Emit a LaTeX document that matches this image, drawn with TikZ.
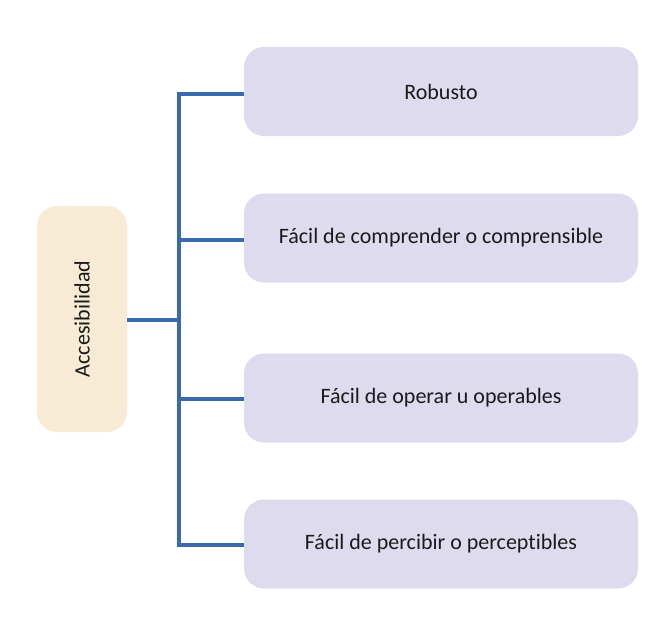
\documentclass[tikz,border=0pt]{standalone}
\usepackage{fontspec}
\setmainfont{Carlito}[Ligatures=NoCommon]
\definecolor{lineblue}{HTML}{3A6AAE}
\definecolor{lav}{HTML}{DEDBEE}
\definecolor{beige}{HTML}{F8EBD6}
\definecolor{txt}{HTML}{1A1A1A}
\begin{document}
\begin{tikzpicture}[x=0.75pt,y=-0.75pt,
  rbox/.style={fill=lav, rounded corners=15pt, minimum width=394*0.75pt, minimum height=89*0.75pt, inner sep=0pt, text=txt, font=\fontsize{16.5pt}{19pt}\selectfont},
  mainbox/.style={fill=beige, rounded corners=15pt, minimum width=90*0.75pt, minimum height=226*0.75pt, inner sep=0pt, text=txt, font=\fontsize{16.5pt}{19pt}\selectfont},
  conn/.style={draw=lineblue, line width=3pt}]
\useasboundingbox (0,0) rectangle (668,625);
\node[mainbox] (acc) at (82,319) {\rotatebox{90}{Accesibilidad}};
\node[rbox] (r1) at (441,91.5) {Robusto};
\node[rbox] (r2) at (441,238) {Fácil de comprender o comprensible};
\node[rbox] (r3) at (441,398) {Fácil de operar u operables};
\node[rbox] (r4) at (441,544) {Fácil de percibir o perceptibles};
\coordinate (t1) at (178.5,94);
\coordinate (t4) at (178.5,545);
\coordinate (tm) at (178.5,319.5);
\draw[conn] (r1.west |- t1) -- (t1) -- (t4) -- (r4.west |- t4);
\draw[conn] (acc.east |- tm) -- (tm);
\draw[conn] (178.5,240) coordinate (t2) -- (r2.west |- t2);
\draw[conn] (178.5,399) coordinate (t3) -- (r3.west |- t3);
\end{tikzpicture}
\end{document}
